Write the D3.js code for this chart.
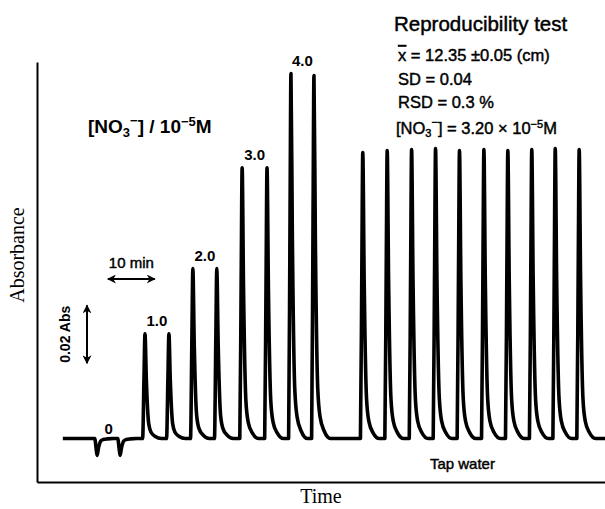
<!DOCTYPE html>
<html>
<head>
<meta charset="utf-8">
<script src="https://cdn.jsdelivr.net/npm/d3@7"></script>
<style>
body { margin: 0; background: #fff; }
text { font-family: "Liberation Sans", Arial, sans-serif; fill: #000; }
.serif { font-family: "Liberation Serif", "Times New Roman", serif; }
.med { stroke: #000; stroke-width: 0.45; }
</style>
</head>
<body>
<svg id="chart" width="605" height="509"></svg>
<script>
// blank (0) injections: time (min), peak height (Abs)
var blankTimes = [12.8, 17.7];
var blankHeights = [-0.0058, -0.0058];
// standards, two injections each
var stdLabels = ["1.0", "2.0", "3.0", "4.0"];
var stdTimes = [[23.0, 28.1], [33.2, 38.3], [43.7, 49.0], [54.1, 59.0]];
var stdHeights = [[0.0362, 0.0362], [0.0587, 0.0587], [0.0935, 0.0935], [0.1260, 0.1253]];
// tap water, ten injections
var tapTimes = [69.4, 74.6, 79.8, 84.9, 90.0, 95.2, 100.3, 105.4, 110.4, 115.5];
var tapHeights = [0.0987, 0.0994, 0.0998, 0.1001, 0.0994, 0.0998, 0.0994, 0.0998, 0.1001, 0.0998];
// shape of one peak: offset (min) and fraction of height
var profileOffset = [-0.5, -0.2, 0, 0.3, 0.8, 1.3, 2.2, 3.5];
var profileFrac = [0, 0.6, 1, 0.55, 0.14, 0.06, 0.02, 0];
var traceStart = 5.5, traceEnd = 121;
// scale bars
var barTime = 10, barAbs = 0.02;

var svg = d3.select("#chart");

var x = d3.scaleLinear().domain([0, 121]).range([37, 605]);
var y = d3.scaleLinear().domain([-0.015, 0.13]).range([482, 62]);

//Axes, no ticks
svg.append("g")
	.attr("transform", "translate(37,0)")
	.call(d3.axisLeft(y).ticks(0).tickSizeOuter(0))
	.select(".domain").attr("stroke-width", 2);
svg.append("g")
	.attr("transform", "translate(0,482)")
	.call(d3.axisBottom(x).ticks(0).tickSizeOuter(0))
	.select(".domain").attr("stroke-width", 2);

//Build the trace from the peaks
var peaks = [];
blankTimes.forEach(function(t, i) { peaks.push({t: t, h: blankHeights[i]}); });
stdTimes.forEach(function(pair, i) {
	pair.forEach(function(t, j) { peaks.push({t: t, h: stdHeights[i][j]}); });
});
tapTimes.forEach(function(t, i) { peaks.push({t: t, h: tapHeights[i]}); });

var trace = [{t: traceStart, a: 0}];
peaks.forEach(function(p) {
	profileOffset.forEach(function(o, k) {
		trace.push({t: p.t + o, a: p.h * profileFrac[k]});
	});
});
trace.push({t: traceEnd, a: 0});

var lineGen = d3.line()
	.x(function(d) { return x(d.t); })
	.y(function(d) { return y(d.a); })
	.curve(d3.curveMonotoneX);

svg.append("path")
	.attr("d", lineGen(trace))
	.attr("fill", "none")
	.attr("stroke", "#000")
	.attr("stroke-width", 3.6)
	.attr("stroke-linejoin", "round");

//Peak labels
svg.append("text")
	.attr("x", x(d3.mean(blankTimes)))
	.attr("y", y(0) - 5)
	.attr("text-anchor", "middle")
	.attr("font-size", 15).attr("font-weight", "bold")
	.text("0");
svg.selectAll("text.std")
	.data(stdLabels)
	.enter()
	.append("text")
	.attr("class", "std")
	.attr("x", function(d, i) { return x(d3.mean(stdTimes[i])); })
	.attr("y", function(d, i) { return y(d3.max(stdHeights[i])) - 8; })
	.attr("text-anchor", "middle")
	.attr("font-size", 15).attr("font-weight", "bold")
	.text(function(d) { return d; });

svg.append("text")
	.attr("class", "med")
	.attr("x", x(d3.mean(tapTimes)) - 9)
	.attr("y", 469)
	.attr("text-anchor", "middle")
	.attr("font-size", 15)
	.text("Tap water");

//Arrow heads
var defs = svg.append("defs");
defs.append("marker")
	.attr("id", "head")
	.attr("viewBox", "0 0 10 10")
	.attr("refX", 9).attr("refY", 5)
	.attr("markerWidth", 4.5).attr("markerHeight", 4.5)
	.attr("orient", "auto-start-reverse")
	.append("path")
	.attr("d", "M0,0 L10,5 L0,10 L3,5 Z")
	.attr("fill", "#000");

//10 min scale bar
var t0 = 15.1;
svg.append("line")
	.attr("x1", x(t0)).attr("x2", x(t0 + barTime))
	.attr("y1", 279).attr("y2", 279)
	.attr("stroke", "#000").attr("stroke-width", 2)
	.attr("marker-start", "url(#head)").attr("marker-end", "url(#head)");
svg.append("text")
	.attr("class", "med")
	.attr("x", x(t0 + barTime / 2))
	.attr("y", 268)
	.attr("text-anchor", "middle")
	.attr("font-size", 15)
	.text("10 min");

//0.02 Abs scale bar
var a0 = 0.026;
svg.append("line")
	.attr("x1", 87).attr("x2", 87)
	.attr("y1", y(a0)).attr("y2", y(a0 + barAbs))
	.attr("stroke", "#000").attr("stroke-width", 2)
	.attr("marker-start", "url(#head)").attr("marker-end", "url(#head)");
svg.append("text")
	.attr("transform", "translate(70," + y(a0 + barAbs / 2) + ") rotate(-90)")
	.attr("text-anchor", "middle")
	.attr("font-size", 14).attr("font-weight", "bold")
	.text("0.02 Abs");

//Axis titles
svg.append("text")
	.attr("class", "serif")
	.attr("transform", "translate(24,255) rotate(-90)")
	.attr("text-anchor", "middle")
	.attr("font-size", 20)
	.text("Absorbance");
svg.append("text")
	.attr("class", "serif")
	.attr("x", 321).attr("y", 503)
	.attr("text-anchor", "middle")
	.attr("font-size", 20)
	.text("Time");

//Concentration label
var conc = svg.append("text")
	.attr("x", 88).attr("y", 133)
	.attr("font-size", 19).attr("font-weight", "bold");
conc.append("tspan").text("[NO");
conc.append("tspan").attr("font-size", 13).attr("dy", 4).text("3");
conc.append("tspan").attr("font-size", 13).attr("dy", -12).text("−");
conc.append("tspan").attr("dy", 8).text("] / 10");
conc.append("tspan").attr("font-size", 13).attr("dy", -7).text("−5");
conc.append("tspan").attr("dy", 7).text("M");

//Reproducibility block
svg.append("text")
	.attr("class", "med")
	.attr("x", 394).attr("y", 31)
	.attr("font-size", 20.5)
	.text("Reproducibility test");

var stats = svg.append("g").attr("font-size", 16.5).attr("class", "med");
var s1 = stats.append("text").attr("x", 398).attr("y", 61);
s1.append("tspan").attr("text-decoration", "overline").text("x");
s1.append("tspan").text(" = 12.35 ±0.05 (cm)");
stats.append("text").attr("x", 398).attr("y", 85).text("SD = 0.04");
stats.append("text").attr("x", 398).attr("y", 108).text("RSD = 0.3 %");
var s4 = stats.append("text").attr("x", 396).attr("y", 134);
s4.append("tspan").text("[NO");
s4.append("tspan").attr("font-size", 11).attr("dy", 3).text("3");
s4.append("tspan").attr("font-size", 11).attr("dy", -11).text("−");
s4.append("tspan").attr("dy", 8).text("] = 3.20 × 10");
s4.append("tspan").attr("font-size", 11).attr("dy", -6).text("−5");
s4.append("tspan").attr("dy", 6).text("M");
</script>
</body>
</html>
